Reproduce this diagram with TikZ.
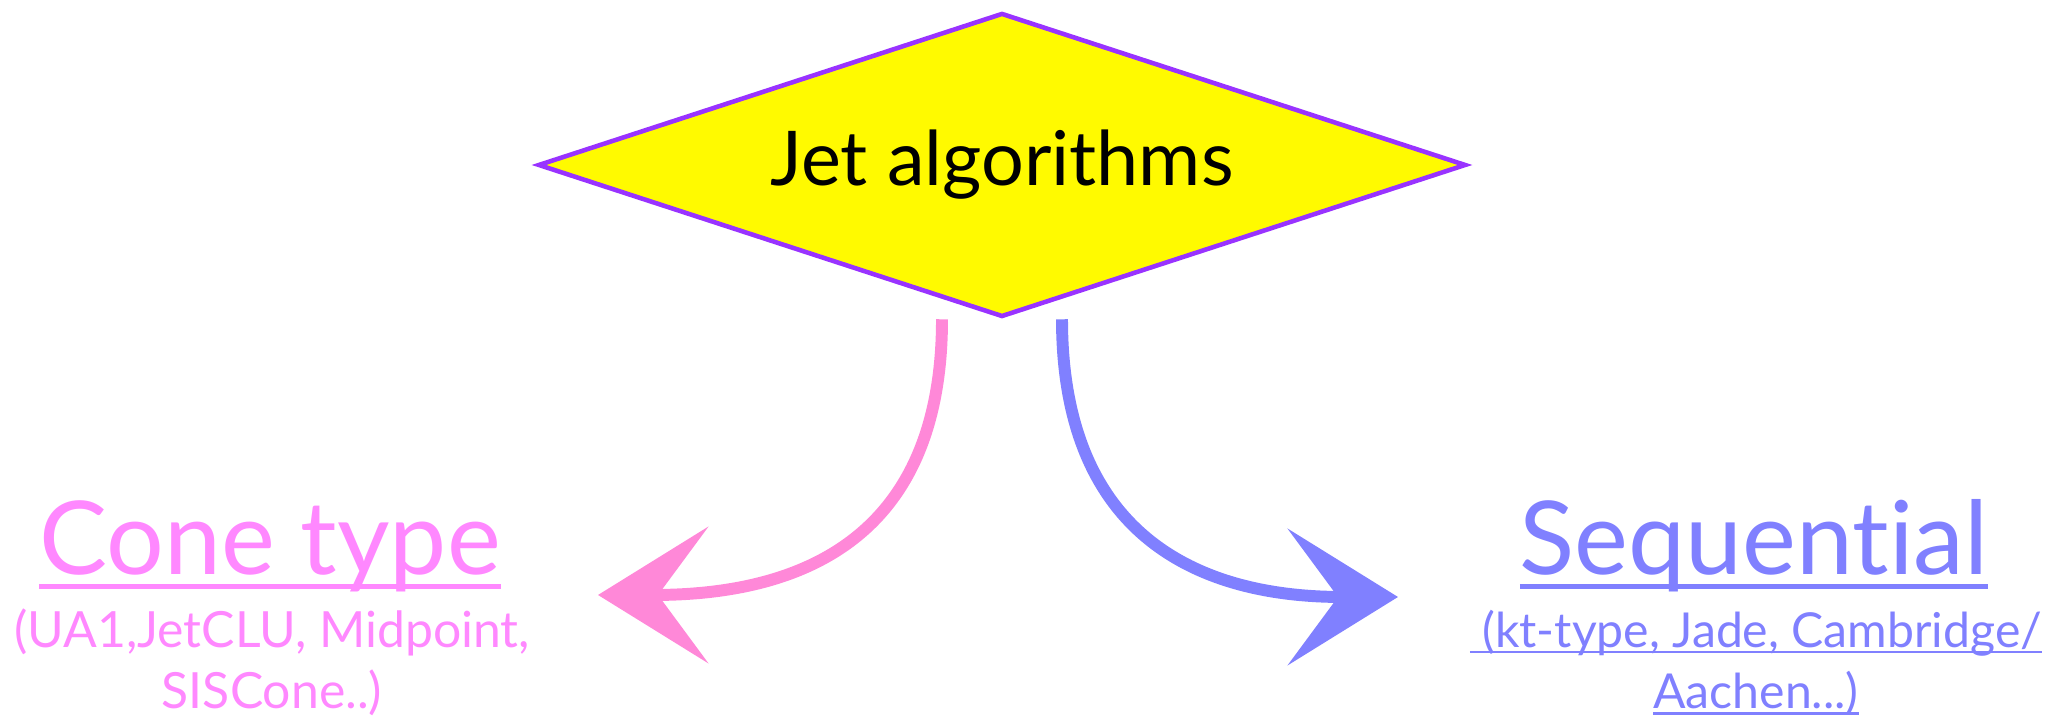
\documentclass[tikz,border=0pt]{standalone}
\usepackage{fontspec}
\setmainfont{Lato}[Ligatures={NoCommon}]
\usetikzlibrary{calc,arrows.meta,shapes.geometric}
\definecolor{jetYellow}{RGB}{255,250,0}
\definecolor{jetPurple}{RGB}{153,51,255}
\definecolor{conePink}{RGB}{255,136,255}
\definecolor{conePinkArrow}{RGB}{255,136,216}
\definecolor{seqBlue}{RGB}{128,128,255}
\newsavebox{\ulbox}
\newcommand{\headline}[1]{\sbox{\ulbox}{#1}\rlap{\rule[-3.9pt]{\wd\ulbox}{1.4pt}}\usebox{\ulbox}}
\newcommand{\subline}[1]{\sbox{\ulbox}{#1}\rlap{\rule[-1.8pt]{\wd\ulbox}{0.8pt}}\usebox{\ulbox}}
\tikzset{
  decision/.style={diamond, aspect=3.05, draw=jetPurple, fill=jetYellow, line width=1.3pt, inner sep=0pt, minimum width=9.28cm, minimum height=3.04cm, font=\fontsize{21.5}{24}\selectfont},
  headlabel/.style={anchor=base, inner sep=0pt, font=\fontsize{29}{34}\selectfont},
  sublabel/.style={anchor=base, inner sep=0pt, align=center, font=\fontsize{14.2}{17.6}\selectfont},
  branch/.style={line width=3.4pt, -{Stealth[length=1.1cm, width=1.36cm, inset=0.5cm]}},
}
\begin{document}
\begin{tikzpicture}
\useasboundingbox (0,0) rectangle (20.49,7.17);
\node[decision] (jet) at (10.02,5.52) {Jet algorithms};

% labels (base anchor of a two-line node = last line)
\node[headlabel, text=conePink] (cone) at (2.70,1.42) {\headline{Cone type}};
\node[sublabel, text=conePink] (conesub) at (2.72,0.08) {(UA1,JetCLU, Midpoint,\\ SISCone..)};
\node[headlabel, text=seqBlue] (seq) at (17.54,1.42) {\headline{Sequent\kern0ptial}};
\node[sublabel, text=seqBlue, font=\fontsize{13.7}{17.6}\selectfont] (seqsub) at (17.56,0.08) {\subline{\ (kt-type, Jade, Cambridge/}\\ \subline{Aachen...)}};

\coordinate (conestart) at ($(jet.south)+(-0.6,0)$);
\coordinate (seqstart) at ($(jet.south)+(0.6,0)$);
\coordinate (conetip) at (5.98,1.22);
\coordinate (seqtip) at (13.98,1.20);

\draw[branch, conePinkArrow] (conestart) .. controls ($(conestart)+(0,-2.04)$) and (8.20,1.22) .. (conetip);
\draw[branch, seqBlue] (seqstart) .. controls ($(seqstart)+(0,-2.04)$) and (11.84,1.20) .. (seqtip);
\end{tikzpicture}
\end{document}
